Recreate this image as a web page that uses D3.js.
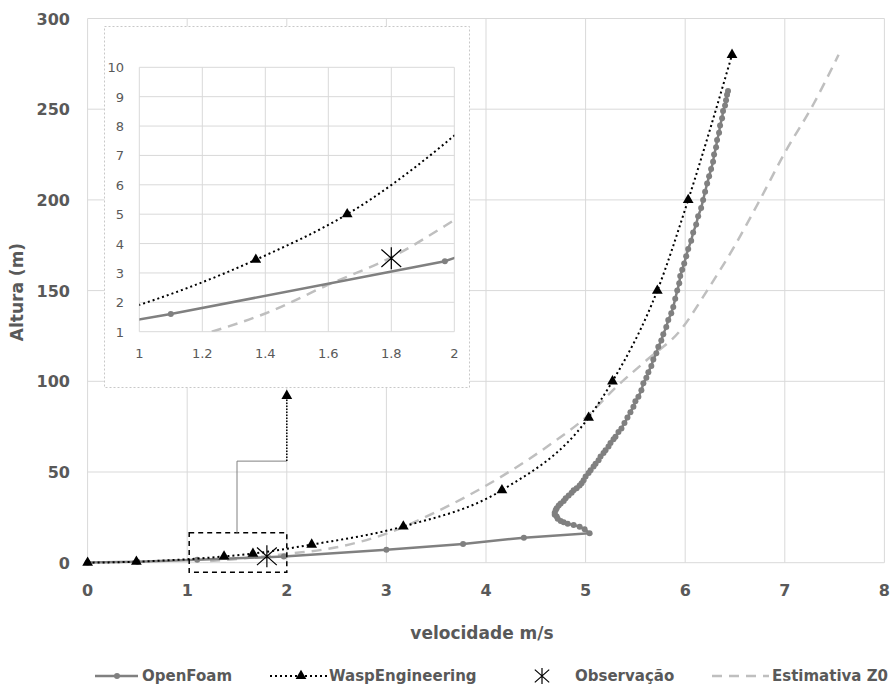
<!DOCTYPE html>
<html lang="pt">
<head>
<meta charset="UTF-8">
<title>Perfil de velocidade</title>
<script src="https://d3js.org/d3.v7.min.js"></script>
<style>
    body { margin: 0; background: #fff; }
    .tick-lbl { font-family: "DejaVu Sans", Verdana, sans-serif; font-weight: bold; font-size: 16px; fill: #595959; }
    .inset-lbl { font-family: "DejaVu Sans", Verdana, sans-serif; font-size: 13px; fill: #595959; }
    .title { font-family: "DejaVu Sans", Verdana, sans-serif; font-weight: bold; font-size: 17px; fill: #595959; }
    .legend { font-family: "DejaVu Sans", Verdana, sans-serif; font-weight: bold; font-size: 15px; fill: #595959; }
</style>
</head>
<body>
<svg id="chart" width="891" height="686"></svg>
<script>
// data (velocidade m/s, altura m)
let openFoamU = [0, 0.5, 1.1, 1.97, 3.0, 3.77, 4.38, 5.04, 4.99, 4.94, 4.88, 4.82, 4.78, 4.75, 4.72, 4.71, 4.69, 4.69, 4.7, 4.71, 4.73, 4.75, 4.78, 4.8, 4.83, 4.86, 4.88, 4.91, 4.94, 4.96, 4.98, 5.0, 5.03, 5.05, 5.08, 5.1, 5.13, 5.15, 5.18, 5.2, 5.23, 5.25, 5.28, 5.3, 5.33, 5.36, 5.39, 5.42, 5.45, 5.48, 5.5, 5.53, 5.56, 5.58, 5.61, 5.63, 5.66, 5.68, 5.71, 5.73, 5.76, 5.78, 5.81, 5.83, 5.86, 5.88, 5.9, 5.92, 5.94, 5.95, 5.97, 5.99, 6.01, 6.03, 6.06, 6.08, 6.11, 6.13, 6.16, 6.18, 6.2, 6.22, 6.24, 6.26, 6.28, 6.29, 6.31, 6.32, 6.34, 6.35, 6.37, 6.38, 6.4, 6.41, 6.42, 6.43]
let openFoamZ = [0.1, 0.5, 1.6, 3.4, 7.2, 10.3, 13.8, 16.2, 18.5, 19.8, 20.8, 21.5, 22.3, 23, 24.2, 25.5, 26.5, 27.6, 29, 30, 31.5, 32.7, 34, 35.5, 37, 38.5, 40, 41, 42.5, 43.8, 45.5, 47.5, 49.5, 51, 53, 54.5, 56.5, 58.5, 60.5, 62, 64, 66, 68, 69.5, 72, 74, 77, 80, 83, 86, 89, 91.5, 95, 98.9, 102, 105, 108.5, 112, 115.5, 119, 122.5, 126, 130, 133.8, 137.5, 141, 145.5, 150, 154, 158, 161.5, 165, 169, 173, 177.5, 182, 186.5, 191, 195.5, 200, 204.5, 209, 213, 217, 221, 225, 229, 233, 237, 241, 245, 249, 252, 255, 258, 260, 262.5, 265]

let waspU = [0, 0.49, 1.37, 1.66, 2.25, 3.17, 4.16, 5.03, 5.27, 5.72, 6.03, 6.47]
let waspZ = [0, 0.55, 3.45, 5, 10, 20, 40, 80, 100, 150, 200, 280]

let obsU = [1.8]
let obsZ = [3.5]

let z0U = [1.23, 1.4, 1.6, 1.8, 2.0, 2.5, 3.0, 3.5, 4.14, 4.64, 5.01, 5.31, 5.62, 5.95, 6.22, 6.5, 6.75, 7.0, 7.29, 7.54]
let z0Z = [1.0, 1.62, 2.6, 3.53, 4.8, 8.5, 16, 28, 47, 65, 80.5, 97, 112, 128, 150, 175, 200, 226, 253, 280]

let xTicks = [0, 1, 2, 3, 4, 5, 6, 7, 8]
let yTicks = [0, 50, 100, 150, 200, 250, 300]
let insetXTicks = [1, 1.2, 1.4, 1.6, 1.8, 2]
let insetYTicks = [1, 2, 3, 4, 5, 6, 7, 8, 9, 10]

// zoom box and its connector (data units)
let zoomBox = {x0: 1.02, x1: 2.0, y0: -5.3, y1: 16.5}
let connU = [1.5, 1.5, 2.0]
let connZ = [16.5, 56, 56]
let arrowU = [2.0, 2.0]
let arrowZ = [56, 92]

let legendNames = ["OpenFoam", "WaspEngineering", "Observação", "Estimativa Z0"]

const zip = (a, b) => a.map((v, i) => [v, b[i]])
let openFoam = zip(openFoamU, openFoamZ)
let wasp = zip(waspU, waspZ)
let obs = zip(obsU, obsZ)
let z0 = zip(z0U, z0Z)

let svg = d3.select("#chart")

let x = d3.scaleLinear().domain([0, 8]).range([87.6, 884.4])
let y = d3.scaleLinear().domain([0, 300]).range([562.7, 18.5])

let xi = d3.scaleLinear().domain([1, 2]).range([139.3, 454.3])
let yi = d3.scaleLinear().domain([1, 10]).range([331.7, 67.3])

let grey = "#808080"
let gridCol = "#d9d9d9"

function asterisk(g, cx, cy, r) {
    g.append("path")
        .attr("d", `M${cx},${cy - r}L${cx},${cy + r}M${cx - r * 0.9},${cy - r * 0.8}L${cx + r * 0.9},${cy + r * 0.8}M${cx - r * 0.9},${cy + r * 0.8}L${cx + r * 0.9},${cy - r * 0.8}`)
        .attr("stroke", "#000").attr("stroke-width", 1.2).attr("fill", "none")
}

// draw one set of series in a given scale pair
function drawSeries(g, sx, sy) {
    let smooth = d3.line().x(d => sx(d[0])).y(d => sy(d[1])).curve(d3.curveMonotoneX)
    let straight = d3.line().x(d => sx(d[0])).y(d => sy(d[1]))

    g.append("path").datum(z0).attr("d", smooth)
        .attr("fill", "none").attr("stroke", "#bfbfbf").attr("stroke-width", 2.5)
        .attr("stroke-dasharray", "10,7")

    g.append("path").datum(openFoam).attr("d", straight)
        .attr("fill", "none").attr("stroke", grey).attr("stroke-width", 2.5)
    g.selectAll(null).data(openFoam).join("circle")
        .attr("cx", d => sx(d[0])).attr("cy", d => sy(d[1])).attr("r", 3)
        .attr("fill", grey)

    g.append("path").datum(wasp).attr("d", smooth)
        .attr("fill", "none").attr("stroke", "#000").attr("stroke-width", 2)
        .attr("stroke-dasharray", "2,3")
    g.selectAll(null).data(wasp).join("path")
        .attr("d", d3.symbol(d3.symbolTriangle).size(50))
        .attr("transform", d => `translate(${sx(d[0])},${sy(d[1])})`)
        .attr("fill", "#000")

    obs.forEach(d => asterisk(g, sx(d[0]), sy(d[1]), 11))
}

// ---- main chart ----
let main = svg.append("g")
main.selectAll(".vg").data(xTicks).join("line")
    .attr("x1", d => x(d)).attr("x2", d => x(d))
    .attr("y1", y(0)).attr("y2", y(300))
    .attr("stroke", gridCol).attr("stroke-width", 1)
main.selectAll(".hg").data(yTicks).join("line")
    .attr("x1", x(0)).attr("x2", x(8))
    .attr("y1", d => y(d)).attr("y2", d => y(d))
    .attr("stroke", gridCol).attr("stroke-width", 1)

main.selectAll(".xl").data(xTicks).join("text")
    .attr("class", "tick-lbl").attr("x", d => x(d)).attr("y", 596)
    .attr("text-anchor", "middle").text(d => d)
main.selectAll(".yl").data(yTicks).join("text")
    .attr("class", "tick-lbl").attr("x", 70).attr("y", d => y(d) + 6)
    .attr("text-anchor", "end").text(d => d)

main.append("text").attr("class", "title")
    .attr("x", 482).attr("y", 639).attr("text-anchor", "middle")
    .text("velocidade m/s")
main.append("text").attr("class", "title")
    .attr("transform", "translate(23,292) rotate(-90)")
    .attr("text-anchor", "middle").text("Altura (m)")

drawSeries(main, x, y)

// zoom box + connector
main.append("rect")
    .attr("x", x(zoomBox.x0)).attr("y", y(zoomBox.y1))
    .attr("width", x(zoomBox.x1) - x(zoomBox.x0))
    .attr("height", y(zoomBox.y0) - y(zoomBox.y1))
    .attr("fill", "none").attr("stroke", "#000").attr("stroke-width", 1.5)
    .attr("stroke-dasharray", "5,4")
let plain = d3.line().x(d => x(d[0])).y(d => y(d[1]))
main.append("path").datum(zip(connU, connZ)).attr("d", plain)
    .attr("fill", "none").attr("stroke", grey).attr("stroke-width", 1)
main.append("path").datum(zip(arrowU, arrowZ)).attr("d", plain)
    .attr("fill", "none").attr("stroke", "#000").attr("stroke-width", 1.5)
    .attr("stroke-dasharray", "1.5,1.5")
main.append("path")
    .attr("d", d3.symbol(d3.symbolTriangle).size(50))
    .attr("transform", `translate(${x(arrowU[1])},${y(arrowZ[1])})`)
    .attr("fill", "#000")

// ---- inset ----
let inset = svg.append("g")
inset.append("rect")
    .attr("x", 104.5).attr("y", 26.5).attr("width", 365).attr("height", 361)
    .attr("fill", "#fff").attr("stroke", "#c8c8c8").attr("stroke-width", 1)
    .attr("stroke-dasharray", "2,2")

inset.selectAll(".ivg").data(insetXTicks).join("line")
    .attr("x1", d => xi(d)).attr("x2", d => xi(d))
    .attr("y1", yi(1)).attr("y2", yi(10))
    .attr("stroke", gridCol).attr("stroke-width", 1)
inset.selectAll(".ihg").data(insetYTicks).join("line")
    .attr("x1", xi(1)).attr("x2", xi(2))
    .attr("y1", d => yi(d)).attr("y2", d => yi(d))
    .attr("stroke", gridCol).attr("stroke-width", 1)

inset.selectAll(".ixl").data(insetXTicks).join("text")
    .attr("class", "inset-lbl").attr("x", d => xi(d)).attr("y", 358)
    .attr("text-anchor", "middle").text(d => d)
inset.selectAll(".iyl").data(insetYTicks).join("text")
    .attr("class", "inset-lbl").attr("x", 124).attr("y", d => yi(d) + 5)
    .attr("text-anchor", "end").text(d => d)

svg.append("defs").append("clipPath").attr("id", "insetClip")
    .append("rect")
    .attr("x", xi(1)).attr("y", yi(10))
    .attr("width", xi(2) - xi(1)).attr("height", yi(1) - yi(10))
let insetPlot = inset.append("g").attr("clip-path", "url(#insetClip)")
drawSeries(insetPlot, xi, yi)

// ---- legend ----
let leg = svg.append("g")
let ly = 676
leg.append("line").attr("x1", 95).attr("x2", 138).attr("y1", ly).attr("y2", ly)
    .attr("stroke", grey).attr("stroke-width", 2.5)
leg.append("circle").attr("cx", 117).attr("cy", ly).attr("r", 3).attr("fill", grey)
leg.append("text").attr("class", "legend").attr("x", 142).attr("y", ly + 5).text(legendNames[0])

leg.append("line").attr("x1", 270).attr("x2", 327).attr("y1", ly).attr("y2", ly)
    .attr("stroke", "#000").attr("stroke-width", 2).attr("stroke-dasharray", "2,3")
leg.append("path").attr("d", d3.symbol(d3.symbolTriangle).size(50))
    .attr("transform", `translate(301,${ly})`).attr("fill", "#000")
leg.append("text").attr("class", "legend").attr("x", 329).attr("y", ly + 5).text(legendNames[1])

asterisk(leg, 542, ly, 8)
leg.append("text").attr("class", "legend").attr("x", 575).attr("y", ly + 5).text(legendNames[2])

leg.append("line").attr("x1", 712).attr("x2", 769).attr("y1", ly).attr("y2", ly)
    .attr("stroke", "#bfbfbf").attr("stroke-width", 2.5).attr("stroke-dasharray", "10,7")
leg.append("text").attr("class", "legend").attr("x", 772).attr("y", ly + 5).text(legendNames[3])
</script>
</body>
</html>
